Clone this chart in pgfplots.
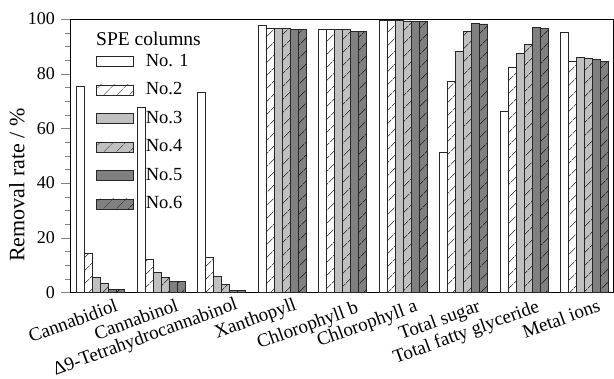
\documentclass[border=0pt]{standalone}
\usepackage{fontspec}
\setmainfont{Liberation Serif}
\usepackage{pgfplots}
\pgfplotsset{compat=1.18}
\usetikzlibrary{patterns.meta}
\definecolor{lg}{RGB}{192,192,192}
\definecolor{dg}{RGB}{128,128,128}
\tikzset{hatch/.style={postaction={pattern={Lines[angle=45,distance=10bp,line width=0.6bp]},pattern color=black}}}
\begin{document}
\fontsize{18bp}{21bp}\selectfont
\begin{tikzpicture}
\path[use as bounding box] (-70bp,-86.5bp) rectangle (544bp,292.5bp);
\begin{axis}[
 at={(0,0)}, anchor=south west,
 scale only axis, width=543bp, height=273.5bp,
 xmin=-0.504, xmax=8.471, ymin=0, ymax=100,
 ybar=0pt, bar width=8bp,
 xtick=\empty,
 ytick={0,20,...,100}, minor y tick num=3,
 ytick pos=left, tick align=outside,
 major tick length=9bp, minor tick length=5bp,
 /pgf/number format/assume math mode=true,
 yticklabel style={font=\fontsize{18bp}{21bp}\selectfont},
 ylabel={Removal rate / \%},
 ylabel style={at={(axis description cs:-0.0976,0.393)}, anchor=center, font=\fontsize{22bp}{25bp}\selectfont},
 every axis plot/.append style={draw=black!85, line width=0.6bp},
 legend style={draw=none, fill=none, at={(0.048,0.88)}, anchor=north west, inner sep=0pt,
   row sep=9.6bp, column sep=10bp, font=\fontsize{18.5bp}{21bp}\selectfont},
 legend cell align=left,
 legend image code/.code={\draw[#1] (0bp,-5bp) rectangle (37bp,5bp);},
]
\addplot[fill=white] coordinates {(0,75.4) (1,67.7) (2,73.3) (3,97.8) (4,96.3) (5,99.5) (6,51.1) (7,66.4) (8,95.0)};
\addplot[fill=white, hatch] coordinates {(0,14.4) (1,12.2) (2,13.0) (3,96.6) (4,96.3) (5,99.5) (6,77.3) (7,82.5) (8,84.6)};
\addplot[fill=lg] coordinates {(0,5.5) (1,7.4) (2,5.9) (3,96.5) (4,96.3) (5,99.4) (6,88.3) (7,87.5) (8,86.0)};
\addplot[fill=lg, hatch] coordinates {(0,3.5) (1,5.6) (2,3.1) (3,96.5) (4,96.3) (5,99.3) (6,95.4) (7,90.6) (8,85.6)};
\addplot[fill=dg] coordinates {(0,1.2) (1,4.0) (2,0.8) (3,96.2) (4,95.5) (5,99.2) (6,98.4) (7,96.8) (8,85.3)};
\addplot[fill=dg, hatch] coordinates {(0,1.2) (1,4.0) (2,0.8) (3,96.2) (4,95.5) (5,99.2) (6,98.2) (7,96.6) (8,84.4)};
\legend{No. 1,No.2,No.3,No.4,No.5,No.6}
\end{axis}
\node[anchor=west, inner sep=0pt, font=\fontsize{19.5bp}{22bp}\selectfont] at (26bp,253.5bp) {SPE columns};
\begin{scope}[every node/.style={rotate=20, anchor=north east, inner sep=0pt, font=\fontsize{19bp}{22bp}\selectfont}]
\node at (44.3bp,-5.8bp) {Cannabidiol};
\node at (105bp,-5.2bp) {Cannabinol};
\node at (164bp,-3.8bp) {Δ9-Tetrahydrocannabinol};
\node at (223bp,-4.2bp) {Xanthopyll};
\node at (285bp,-7.5bp) {Chlorophyll b};
\node at (343.8bp,-5.8bp) {Chlorophyll a};
\node at (406.8bp,-5.8bp) {Total sugar};
\node at (465.8bp,-5.8bp) {Total fatty glyceride};
\node at (526.8bp,-5.8bp) {Metal ions};
\end{scope}
\end{tikzpicture}
\end{document}
